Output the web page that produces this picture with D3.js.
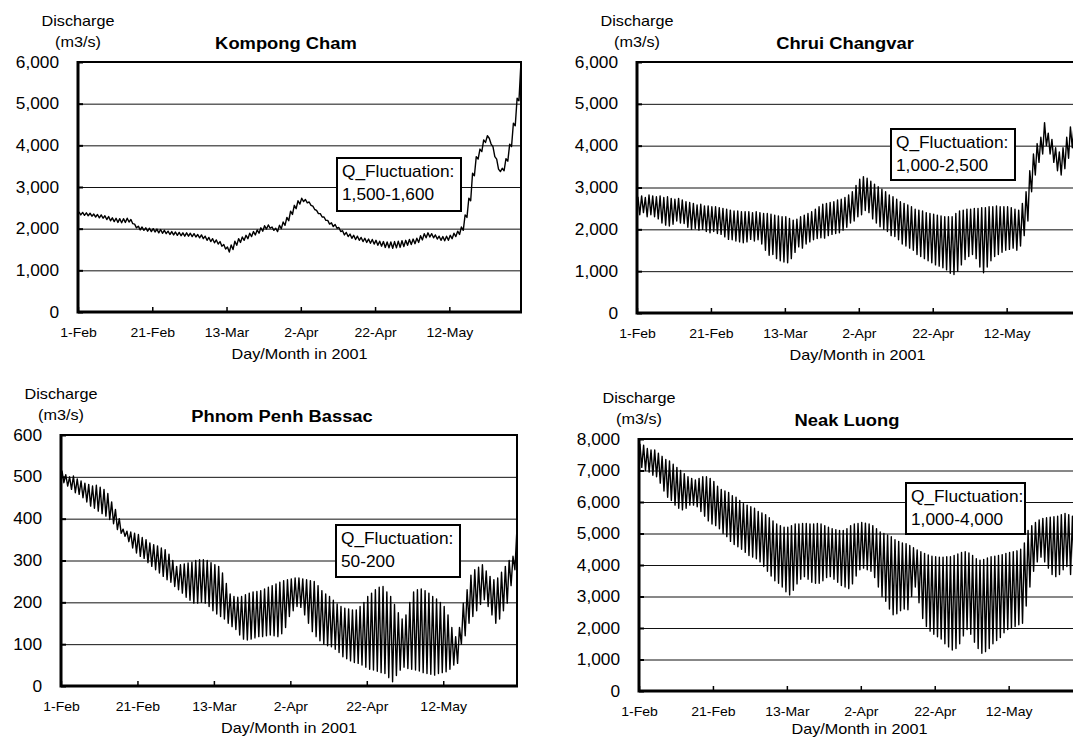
<!DOCTYPE html>
<html>
<head>
<meta charset="utf-8">
<script src="https://cdnjs.cloudflare.com/ajax/libs/d3/7.8.5/d3.min.js"></script>
<style>
  body { margin: 0; background: #fff; }
  svg { display: block; font-family: "Liberation Sans", Arial, sans-serif; }
</style>
</head>
<body>
<svg id="chart" width="1073" height="740"></svg>
<script>
// x axis: day index counted from 1-Feb-2001
const tickDays = [0, 20, 40, 60, 80, 100];
const tickLabels = ["1-Feb", "21-Feb", "13-Mar", "2-Apr", "22-Apr", "12-May"];

// daily high / low discharge (m3/s), 1-Feb .. 31-May
const kcHigh = [
  2400,2390,2380,2370,2350,2340,2330,2310,2290,2260,
  2250,2240,2240,2250,2220,2110,2060,2040,2020,2010,
  2000,1990,1980,1960,1940,1930,1920,1910,1900,1900,
  1890,1880,1860,1850,1820,1790,1760,1730,1690,1620,
  1560,1610,1700,1760,1800,1840,1890,1930,1970,2020,
  2070,2090,2040,2010,2080,2160,2270,2420,2560,2670,
  2730,2700,2640,2540,2440,2360,2280,2200,2140,2100,
  2030,1950,1910,1870,1840,1820,1790,1770,1750,1740,
  1720,1700,1690,1680,1680,1690,1700,1710,1720,1740,
  1750,1770,1830,1880,1900,1880,1850,1820,1810,1820,
  1840,1890,1940,2040,2330,2730,3330,3730,3910,4130,
  4230,4030,3730,3430,3450,3680,4030,4530,5130,5930
];
const kcLow = [
  2330,2320,2310,2300,2280,2260,2250,2220,2190,2170,
  2150,2140,2150,2160,2120,2020,1970,1960,1940,1930,
  1920,1900,1890,1880,1860,1850,1840,1830,1820,1820,
  1810,1800,1780,1760,1720,1690,1660,1630,1580,1510,
  1440,1500,1600,1670,1720,1760,1810,1850,1890,1940,
  1990,2010,1960,1930,2000,2080,2190,2340,2480,2590,
  2650,2620,2560,2460,2360,2280,2200,2110,2050,2010,
  1930,1850,1810,1770,1740,1720,1690,1670,1650,1630,
  1600,1580,1550,1540,1530,1540,1550,1570,1600,1620,
  1640,1670,1730,1780,1800,1780,1750,1720,1710,1720,
  1760,1810,1860,1960,2270,2670,3270,3670,3850,4070,
  4170,3970,3670,3370,3390,3620,3970,4470,5070,5870
];

const ccHigh = [
  2780,2800,2760,2820,2800,2780,2800,2760,2780,2740,
  2720,2740,2700,2660,2640,2620,2580,2600,2560,2560,
  2540,2540,2520,2500,2480,2460,2440,2440,2420,2420,
  2420,2400,2420,2400,2380,2380,2360,2340,2320,2300,
  2300,2260,2220,2240,2300,2340,2380,2420,2480,2540,
  2600,2620,2640,2660,2700,2720,2760,2820,2900,3050,
  3200,3260,3220,3150,3080,3020,2960,2900,2820,2780,
  2720,2660,2620,2580,2540,2480,2460,2440,2400,2380,
  2360,2340,2320,2300,2300,2300,2380,2440,2460,2480,
  2480,2500,2500,2520,2520,2540,2540,2560,2540,2540,
  2540,2520,2480,2460,2620,2900,3400,3800,4050,4200,
  4550,4300,4150,3950,3850,3950,4200,4450,4500,4550
];
const ccLow = [
  2350,2400,2300,2350,2300,2250,2150,2100,2080,2120,
  2200,2150,2140,2050,2000,2020,1980,2000,1950,1920,
  1950,1900,1880,1820,1760,1750,1720,1700,1680,1700,
  1760,1720,1750,1650,1500,1380,1400,1300,1250,1220,
  1200,1300,1450,1580,1550,1650,1700,1750,1780,1800,
  1790,1850,1880,1900,1920,1980,2050,2150,2200,2300,
  2350,2450,2400,2250,2150,2060,2000,1950,1850,1830,
  1750,1650,1600,1550,1500,1400,1350,1300,1250,1200,
  1150,1120,1080,1030,950,920,1000,1150,1280,1350,
  1400,1300,1100,960,1100,1250,1350,1400,1450,1500,
  1520,1550,1500,1600,1850,2200,2900,3300,3600,3800,
  4000,3800,3600,3400,3300,3450,3700,3950,4000,4050
];

const ppHigh = [
  515,505,500,502,495,490,485,482,478,480,
  475,470,460,440,422,400,375,370,368,365,
  362,355,350,342,338,335,330,326,315,300,
  286,290,292,294,296,300,302,302,300,295,
  290,286,270,245,220,214,212,214,218,222,
  225,226,228,232,236,240,244,248,252,254,
  256,258,258,256,254,252,250,240,228,220,
  214,205,196,190,186,184,182,182,190,200,
  214,222,230,236,238,225,214,195,175,160,
  170,200,225,230,232,228,222,214,208,200,
  190,170,140,118,140,198,230,265,278,284,
  290,275,262,254,258,272,286,300,310,370
];
const ppLow = [
  486,478,470,462,458,450,440,430,425,418,
  412,406,398,388,374,365,358,345,330,318,
  310,305,295,286,278,270,262,254,248,238,
  230,222,212,205,198,198,200,198,190,180,
  172,166,160,150,142,135,122,112,110,112,
  115,118,118,120,122,120,118,125,140,166,
  180,190,188,170,150,130,118,108,100,96,
  94,88,80,70,65,60,56,54,50,45,
  40,38,35,32,30,20,10,25,38,45,
  42,40,38,36,32,30,28,26,30,32,
  34,40,50,54,100,120,150,166,180,195,
  206,190,170,150,160,180,198,240,278,310
];

const nlHigh = [
  7850,7800,7700,7650,7650,7550,7450,7350,7300,7200,
  7100,7000,6900,6800,6750,6700,6750,6800,6800,6750,
  6650,6500,6400,6350,6300,6200,6150,6050,5950,5900,
  5850,5800,5700,5650,5600,5500,5400,5300,5250,5200,
  5200,5250,5300,5300,5320,5320,5300,5300,5320,5300,
  5250,5200,5150,5120,5100,5100,5150,5250,5300,5320,
  5350,5330,5300,5250,5150,5050,5000,4950,4900,4800,
  4750,4700,4680,4620,4550,4480,4420,4370,4320,4280,
  4260,4250,4250,4260,4260,4300,4350,4400,4420,4380,
  4300,4200,4150,4180,4220,4260,4280,4300,4330,4370,
  4400,4420,4450,4500,4700,5100,5250,5350,5430,5480,
  5500,5520,5530,5550,5600,5640,5600,5550,5600,5650
];
const nlLow = [
  7100,7000,6950,6850,6800,6600,6350,6150,6050,5900,
  5800,5750,5800,5900,5900,5850,5700,5550,5400,5300,
  5250,5150,5000,4900,4750,4650,4580,4500,4400,4300,
  4250,4200,4100,3950,3800,3650,3500,3420,3300,3150,
  3050,3200,3400,3550,3630,3550,3450,3420,3420,3500,
  3600,3630,3550,3450,3350,3300,3250,3400,3650,3850,
  3900,3850,3800,3600,3300,3000,2850,2600,2420,2450,
  2550,2600,2580,3000,3300,2800,2300,2050,1900,1800,
  1720,1650,1500,1400,1300,1350,1500,1750,1950,1800,
  1550,1350,1200,1250,1350,1500,1600,1700,1850,1950,
  2000,2050,2100,2150,2700,3300,3800,4100,4250,4100,
  3900,3700,3630,3700,3850,3950,3700,3550,3800,4000
];

const kcTicks = [0, 1000, 2000, 3000, 4000, 5000, 6000];
const ccTicks = [0, 1000, 2000, 3000, 4000, 5000, 6000];
const ppTicks = [0, 100, 200, 300, 400, 500, 600];
const nlTicks = [0, 1000, 2000, 3000, 4000, 5000, 6000, 7000, 8000];

const panels = [
  { title: "Kompong Cham", high: kcHigh, low: kcLow, ticks: kcTicks, note: "1,500-1,600",
    L: 78, R: 521, T: 62, B: 312, titleX: 286, xTitleDy: 47, box: [337, 158, 124, 53] },
  { title: "Chrui Changvar", high: ccHigh, low: ccLow, ticks: ccTicks, note: "1,000-2,500",
    L: 637, R: 1078, T: 62, B: 313, titleX: 845, xTitleDy: 47, box: [891, 129, 124, 51] },
  { title: "Phnom Penh Bassac", high: ppHigh, low: ppLow, ticks: ppTicks, note: "50-200",
    L: 61, R: 517, T: 435, B: 686, titleX: 282, xTitleDy: 47, box: [336, 525, 124, 52] },
  { title: "Neak Luong", high: nlHigh, low: nlLow, ticks: nlTicks, note: "1,000-4,000",
    L: 639, R: 1080, T: 439, B: 691, titleX: 847, xTitleDy: 43, box: [906, 483, 119, 51] }
];

const lastDay = 119.3;
const SX = 1.08;   // the scanned figure is slightly stretched sideways
const svg = d3.select("#chart");

function widen(sel) {
  sel.each(function () {
    const t = d3.select(this);
    const x = +t.attr("x") || 0;
    t.attr("transform", `translate(${x * (1 - SX)},0) scale(${SX},1)`);
  });
}

panels.forEach((p, k) => {
  const g = svg.append("g");
  const x = d3.scaleLinear().domain([0, lastDay]).range([p.L, p.R]);
  const y = d3.scaleLinear().domain([0, d3.max(p.ticks)]).range([p.B, p.T]);

  // gridlines + y labels
  g.append("g")
    .attr("transform", `translate(${p.L},0)`)
    .call(d3.axisLeft(y).tickValues(p.ticks).tickSize(-(p.R - p.L)).tickPadding(19)
      .tickFormat(d3.format(",")))
    .call(a => a.attr("font-size", null).attr("font-family", null))
    .call(a => a.select(".domain").remove())
    .call(a => a.selectAll("line").attr("stroke", "#111").attr("stroke-width", 1))
    .call(a => a.selectAll("text").attr("font-size", 16).attr("fill", "#000"));

  // short inside ticks on the y axis
  g.append("g")
    .attr("transform", `translate(${p.L},0)`)
    .call(d3.axisLeft(y).tickValues(p.ticks).tickSize(-5).tickFormat(""))
    .call(a => a.select(".domain").remove())
    .call(a => a.selectAll("line").attr("stroke", "#000").attr("stroke-width", 2));

  // x axis
  g.append("g")
    .attr("transform", `translate(0,${p.B})`)
    .call(d3.axisBottom(x).tickValues(tickDays).tickSize(-5).tickPadding(16)
      .tickFormat((d, i) => tickLabels[i]))
    .call(a => a.attr("font-size", null).attr("font-family", null))
    .call(a => a.select(".domain").remove())
    .call(a => a.selectAll("line").attr("stroke", "#000").attr("stroke-width", 1.5))
    .call(a => a.selectAll("text").attr("font-size", 13).attr("fill", "#000"));

  // series: one high and one low per day
  const pts = [];
  p.high.forEach((h, i) => {
    pts.push([i + 0.25, h]);
    pts.push([i + 0.75, p.low[i]]);
  });
  const clipId = "clip" + k;
  svg.append("clipPath").attr("id", clipId)
    .append("rect").attr("x", p.L).attr("y", p.T).attr("width", p.R - p.L).attr("height", p.B - p.T);
  g.append("path")
    .datum(pts)
    .attr("clip-path", `url(#${clipId})`)
    .attr("fill", "none")
    .attr("stroke", "#000")
    .attr("stroke-width", 1.4)
    .attr("stroke-linejoin", "round")
    .attr("d", d3.line().x(d => x(d[0])).y(d => y(d[1])));

  // frame
  g.append("rect")
    .attr("x", p.L).attr("y", p.T).attr("width", p.R - p.L).attr("height", p.B - p.T)
    .attr("fill", "none").attr("stroke", "#000").attr("stroke-width", 2);
  g.append("path")
    .attr("d", `M${p.L},${p.T - 1}V${p.B}H${p.R + 1}`)
    .attr("fill", "none").attr("stroke", "#000").attr("stroke-width", 3);

  // fluctuation note
  const [bx, by, bw, bh] = p.box;
  g.append("rect").attr("x", bx).attr("y", by).attr("width", bw).attr("height", bh)
    .attr("fill", "#fff").attr("stroke", "#000").attr("stroke-width", 2);
  g.append("text").attr("x", bx + 5).attr("y", by + 19).attr("font-size", 16).text("Q_Fluctuation:");
  g.append("text").attr("x", bx + 5).attr("y", by + 42).attr("font-size", 16).text(p.note);

  // titles
  g.append("text").attr("x", p.L).attr("y", p.T - 36).attr("text-anchor", "middle")
    .attr("font-size", 15).text("Discharge");
  g.append("text").attr("x", p.L).attr("y", p.T - 15).attr("text-anchor", "middle")
    .attr("font-size", 15).text("(m3/s)");
  g.append("text").attr("x", p.titleX).attr("y", p.T - 13).attr("text-anchor", "middle")
    .attr("font-size", 17).attr("font-weight", "bold").text(p.title);
  g.append("text").attr("x", (p.L + p.R) / 2).attr("y", p.B + p.xTitleDy).attr("text-anchor", "middle")
    .attr("font-size", 15).text("Day/Month in 2001");

  g.selectAll("text").call(widen);
});
</script>
</body>
</html>
